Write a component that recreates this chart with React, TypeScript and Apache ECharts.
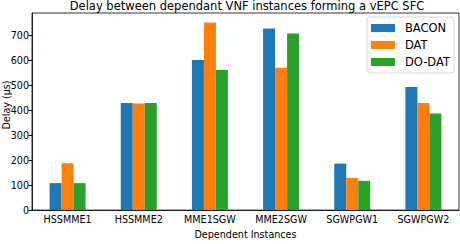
import React, { useEffect, useRef } from "react";
import * as echarts from "echarts";

const categories = ["HSSMME1", "HSSMME2", "MME1SGW", "MME2SGW", "SGWPGW1", "SGWPGW2"];
const bacon = [108, 428, 600, 726, 186, 492];
const dat = [187, 426, 750, 569, 129, 428];
const doDat = [108, 428, 560, 706, 117, 386];
const seriesNames = ["BACON", "DAT", "DO-DAT"];
const colors = ["#1f77b4", "#ff7f0e", "#2ca02c"];

const FONT = "DejaVu Sans";

export default function App() {
  const ref = useRef<HTMLDivElement>(null);
  useEffect(() => {
    if (!ref.current) return;
    const chart = echarts.init(ref.current, null, { renderer: "svg" });
    const data = [bacon, dat, doDat];
    chart.setOption({
      animation: false,
      textStyle: { fontFamily: FONT },
      title: {
        text: "Delay between dependant VNF instances forming a vEPC SFC",
        left: 247,
        textAlign: "center",
        top: 0,
        padding: 0,
        textStyle: { fontFamily: FONT, fontSize: 11.5, fontWeight: "normal", color: "#000" },
      },
      legend: {
        data: seriesNames,
        orient: "vertical",
        right: 6,
        top: 17,
        itemWidth: 24,
        itemHeight: 8,
        itemGap: 3,
        padding: [4, 4, 4, 4],
        borderColor: "#d6d6d6",
        borderWidth: 1,
        borderRadius: 3,
        backgroundColor: "rgba(255,255,255,0.8)",
        icon: "rect",
        textStyle: { fontFamily: FONT, fontSize: 11.5, color: "#000", padding: [0, 0, 0, 5], lineHeight: 14 },
      },
      graphic: [
        {
          type: "text",
          x: 6,
          y: 105,
          rotation: Math.PI / 2,
          style: {
            text: "Delay (µs)",
            fontFamily: FONT,
            fontSize: 9.6,
            fill: "#000",
            align: "center",
            verticalAlign: "middle",
          },
        },
      ],
      grid: {
        left: 32,
        right: 1,
        top: 13,
        bottom: 23,
        show: true,
        borderColor: "#000",
        borderWidth: 0.8,
        backgroundColor: "transparent",
      },
      xAxis: {
        type: "category",
        data: categories,
        name: "Dependent Instances",
        nameLocation: "middle",
        nameGap: 16,
        nameTextStyle: { fontFamily: FONT, fontSize: 9.6, color: "#000" },
        axisLine: { lineStyle: { color: "#000", width: 0.8 } },
        axisTick: { alignWithLabel: true, length: 3.5, lineStyle: { color: "#000" } },
        axisLabel: { interval: 0, fontFamily: FONT, fontSize: 9.6, color: "#000", margin: 4 },
      },
      yAxis: {
        type: "value",
        min: 0,
        max: 788,
        interval: 100,
        axisLine: { show: true, lineStyle: { color: "#000", width: 0.8 } },
        axisTick: { show: true, length: 3.5, lineStyle: { color: "#000" } },
        axisLabel: {
          fontFamily: FONT,
          fontSize: 9.6,
          color: "#000",
          margin: 3,
          showMaxLabel: false,
          formatter: (v: number) => (v % 100 === 0 ? String(v) : ""),
        },
        splitLine: { show: false },
      },
      series: seriesNames.map((name, i) => ({
        name,
        type: "bar",
        data: data[i],
        itemStyle: { color: colors[i] },
        barWidth: 12,
        barGap: "0%",
      })),
    });
    return () => chart.dispose();
  }, []);
  return <div ref={ref} style={{ width: 460, height: 244, position: "absolute", left: 0, top: 0 }} />;
}
